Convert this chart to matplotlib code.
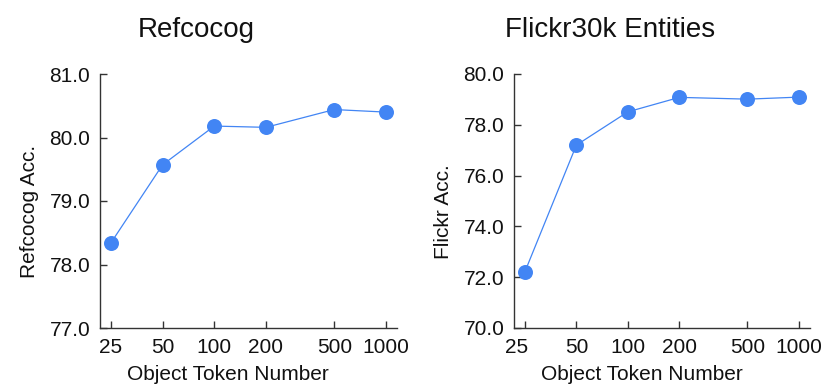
"""Object token number ablation: Refcocog and Flickr30k Entities accuracy."""

import matplotlib
matplotlib.use("Agg")
import matplotlib.pyplot as plt
import matplotlib as mpl
import matplotlib.transforms as mtransforms

mpl.rcParams.update({
    "font.family": ["Liberation Sans", "DejaVu Sans"],
    "font.size": 15,
    "axes.spines.top": False,
    "axes.spines.right": False,
})

tokens = [25, 50, 100, 200, 500, 1000]
tick_labels = ["25", "50", "100", "200", "500", "1000"]
refcocog_acc = [78.34, 79.57, 80.18, 80.16, 80.44, 80.40]
flickr_acc = [72.21, 77.20, 78.51, 79.08, 79.01, 79.09]

BLUE = "#4285F4"
DARK = "#333333"

fig = plt.figure(figsize=(8.3, 3.92), dpi=100)
ax1 = fig.add_axes([100 / 830, 1 - 328 / 392, 297 / 830, 254 / 392])
ax2 = fig.add_axes([514 / 830, 1 - 328 / 392, 296 / 830, 254 / 392])

panels = [
    (ax1, refcocog_acc, "Refcocog", "Refcocog Acc.", (77, 81), [77, 78, 79, 80, 81]),
    (ax2, flickr_acc, "Flickr30k Entities", "Flickr Acc.", (70, 80), [70, 72, 74, 76, 78, 80]),
]

for ax, vals, title, ylabel, ylim, yticks in panels:
    ax.plot(tokens, vals, color=BLUE, linewidth=0.9, marker="o",
            markersize=10.8, markeredgewidth=0, zorder=3, clip_on=False)
    ax.set_xscale("log")
    ax.set_xlim(21.6, 1160)
    ax.set_xticks(tokens)
    ax.set_xticklabels(tick_labels)
    ax.xaxis.set_minor_locator(mpl.ticker.NullLocator())
    ax.set_ylim(*ylim)
    ax.set_yticks(yticks)
    ax.set_yticklabels([f"{v:.1f}" for v in yticks])
    for side in ("left", "bottom"):
        ax.spines[side].set_color(DARK)
        ax.spines[side].set_linewidth(1.0)
    ax.tick_params(direction="in", length=5, width=1.0, color=DARK,
                   labelsize=15, labelcolor="#111111")
    ax.tick_params(axis="x", pad=7)
    ax.tick_params(axis="y", pad=7)
    ax.text(0.325, 1 + 37 / 254, title, transform=ax.transAxes,
            ha="center", va="baseline", fontsize=20, color="#111111")
    ax.set_xlabel("Object Token Number", fontsize=15, color="#111111")
    ax.set_ylabel(ylabel, fontsize=15, color="#111111")
    ax.xaxis.set_label_coords(0.432, -47 / 254)
    ax.xaxis.label.set_va("center")
    ax.yaxis.set_label_coords(-0.238, 0.457)
    ax.yaxis.label.set_va("center")

# the "25" label on the right panel sits a bit left of its tick
lab = ax2.get_xticklabels()[0]
lab.set_transform(lab.get_transform() + mtransforms.ScaledTranslation(-8 / 100, 0, fig.dpi_scale_trans))

fig.savefig("out.png", dpi=100)
